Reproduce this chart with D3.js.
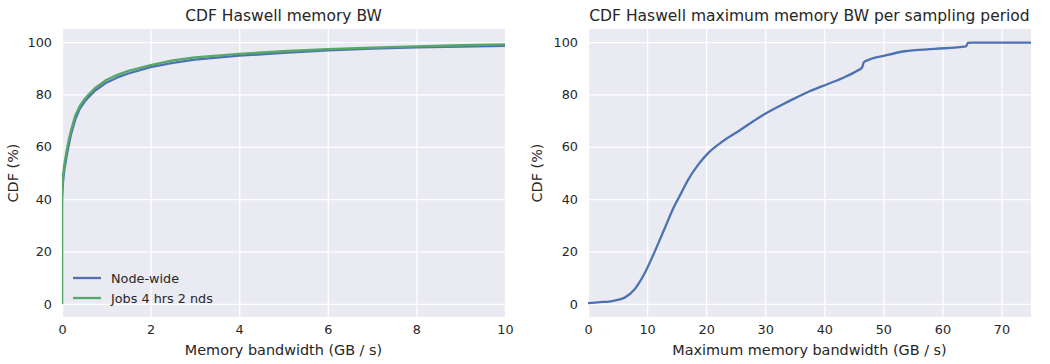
<!DOCTYPE html>
<html>
<head>
<meta charset="utf-8">
<script src="https://cdn.jsdelivr.net/npm/d3@7"></script>
<style>
  html, body { margin: 0; padding: 0; background: #ffffff; }
  svg { display: block; }
  text { font-family: "DejaVu Sans", sans-serif; fill: #262626; }
</style>
</head>
<body>
<svg id="chart" width="1050" height="364"></svg>
<script>
// ---- Left panel data: CDF of memory bandwidth ----
const leftX = [0, 0, 0.005, 0.02, 0.05, 0.1, 0.15, 0.2, 0.3, 0.4, 0.5, 0.6, 0.75, 1.0, 1.25, 1.5, 2, 2.5, 3, 4, 5, 6, 7, 8, 9, 10];
const nodeWide = [0, 38, 42, 46, 51, 56, 60.5, 64.5, 70.5, 74.5, 77, 79, 81.5, 84.5, 86.5, 88, 90.4, 92.1, 93.3, 94.8, 95.9, 96.8, 97.5, 98.0, 98.3, 98.6];
const jobs4h2n = [0, 40, 44, 48, 53, 58, 62.5, 66, 72, 75.5, 78, 80, 82.5, 85.5, 87.5, 89, 91.2, 93, 94.2, 95.5, 96.5, 97.3, 97.9, 98.4, 98.8, 99.1];
const leftSeriesNames = ["Node-wide", "Jobs 4 hrs 2 nds"];

// ---- Right panel data: CDF of maximum memory bandwidth per sampling period ----
const rightX = [0, 2, 3.3, 5, 6.2, 7.9, 9.5, 11.2, 12.9, 14.6, 15.8, 16.9, 18.6, 20.3, 22.5, 25.9, 29.3, 32.7, 34.9, 37.5, 40.6, 43.4, 45.5, 46.4, 46.7, 47.5, 50.2, 53.6, 58.7, 64.0, 64.3, 65, 75];
const rightY = [0.3, 0.7, 0.8, 1.5, 2.4, 5.6, 11.3, 19.5, 28.4, 37.3, 42.4, 47.2, 53, 57.5, 61.6, 66.6, 71.7, 75.9, 78.4, 81.2, 84, 86.6, 89, 90.3, 92.3, 93.2, 94.8, 96.5, 97.4, 98.4, 99.7, 99.8, 99.8];

// ---- Tick labels ----
const yTicks = [0, 20, 40, 60, 80, 100];
const leftXTicks = [0, 2, 4, 6, 8, 10];
const rightXTicks = [0, 10, 20, 30, 40, 50, 60, 70];

const titles = ["CDF Haswell memory BW", "CDF Haswell maximum memory BW per sampling period"];
const xLabels = ["Memory bandwidth (GB / s)", "Maximum memory bandwidth (GB / s)"];
const yLabel = "CDF (%)";

const colors = ["#4C72B0", "#55A868"];

const svg = d3.select("#chart");

function panel(opts) {
  const g = svg.append("g");
  const x = d3.scaleLinear().domain(opts.xDomain).range([opts.left, opts.right]);
  const y = d3.scaleLinear().domain([-5, 105]).range([opts.bottom, opts.top]);

  g.append("rect")
    .attr("x", opts.left).attr("y", opts.top)
    .attr("width", opts.right - opts.left).attr("height", opts.bottom - opts.top)
    .attr("fill", "#EAEAF2");

  const gx = g.append("g").attr("transform", `translate(0,${opts.bottom})`)
    .call(d3.axisBottom(x).tickValues(opts.xTicks).tickSize(-(opts.bottom - opts.top)).tickPadding(8).tickFormat(d3.format("d")));
  gx.select(".domain").remove();
  gx.selectAll(".tick line").attr("stroke", "#ffffff").attr("stroke-width", 1.3);
  gx.selectAll(".tick text").attr("font-size", 12.8).attr("fill", "#262626").style("font-family", "DejaVu Sans");

  const gy = g.append("g").attr("transform", `translate(${opts.left},0)`)
    .call(d3.axisLeft(y).tickValues(yTicks).tickSize(-(opts.right - opts.left)).tickPadding(10).tickFormat(d3.format("d")));
  gy.select(".domain").remove();
  gy.selectAll(".tick line").attr("stroke", "#ffffff").attr("stroke-width", 1.3);
  gy.selectAll(".tick text").attr("font-size", 12.8).attr("fill", "#262626").style("font-family", "DejaVu Sans");

  const clipId = "clip" + opts.id;
  g.append("clipPath").attr("id", clipId).append("rect")
    .attr("x", opts.left).attr("y", opts.top)
    .attr("width", opts.right - opts.left).attr("height", opts.bottom - opts.top);

  opts.series.forEach((s) => {
    const line = d3.line().x(d => x(d[0])).y(d => y(d[1])).curve(s.curve || d3.curveLinear);
    g.append("path")
      .datum(s.xs.map((v, k) => [v, s.ys[k]]))
      .attr("d", line)
      .attr("fill", "none")
      .attr("stroke", s.color)
      .attr("stroke-width", 2.3)
      .attr("stroke-linejoin", "round")
      .attr("clip-path", `url(#${clipId})`);
  });

  const cx = (opts.left + opts.right) / 2;
  g.append("text").attr("x", cx).attr("y", 21).attr("text-anchor", "middle")
    .attr("font-size", 15.5).text(opts.title);
  g.append("text").attr("x", cx).attr("y", 355).attr("text-anchor", "middle")
    .attr("font-size", 14.4).text(opts.xLabel);
  g.append("text")
    .attr("transform", `translate(${opts.yLabelX},${(opts.top + opts.bottom) / 2}) rotate(-90)`)
    .attr("text-anchor", "middle").attr("font-size", 14.4).text(yLabel);

  return { g, x, y };
}

panel({
  id: "L", left: 62, right: 505, top: 29, bottom: 317,
  xDomain: [0, 10], xTicks: leftXTicks, title: titles[0], xLabel: xLabels[0], yLabelX: 18,
  series: [
    { xs: leftX, ys: nodeWide, color: colors[0] },
    { xs: leftX, ys: jobs4h2n, color: colors[1] }
  ]
});

panel({
  id: "R", left: 588, right: 1031, top: 29, bottom: 317,
  xDomain: [0, 75], xTicks: rightXTicks, title: titles[1], xLabel: xLabels[1], yLabelX: 542,
  series: [
    { xs: rightX, ys: rightY, color: colors[0], curve: d3.curveMonotoneX }
  ]
});

// legend on left panel
const leg = svg.append("g");
leftSeriesNames.forEach((name, i) => {
  const yy = 278 + i * 20;
  leg.append("line").attr("x1", 73).attr("x2", 101).attr("y1", yy).attr("y2", yy)
    .attr("stroke", colors[i]).attr("stroke-width", 2.3);
  leg.append("text").attr("x", 111).attr("y", yy + 4.5).attr("font-size", 12.8).text(name);
});
</script>
</body>
</html>
